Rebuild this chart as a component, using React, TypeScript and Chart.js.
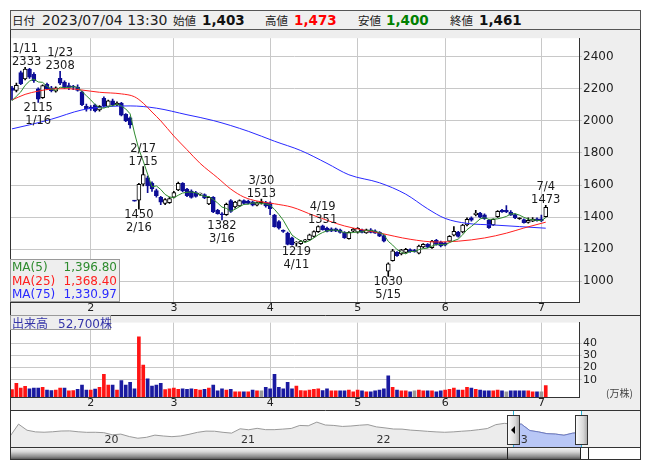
import React, { useEffect, useRef } from 'react';
import { Chart, registerables } from 'chart.js';

Chart.register(...registerables);

const FONT = '"DejaVu Sans", "Noto Sans CJK JP", sans-serif';
const JP = '"Noto Sans CJK JP", "DejaVu Sans", sans-serif';

// ---------- data ----------
const dates = [
  '1/5','1/6','1/10','1/11','1/12','1/13','1/16','1/17','1/18','1/19','1/20','1/23','1/24','1/25','1/26','1/27','1/30','1/31',
  '2/1','2/2','2/3','2/6','2/7','2/8','2/9','2/10','2/13','2/14','2/15','2/16','2/17','2/20','2/21','2/22','2/24','2/27','2/28',
  '3/1','3/2','3/3','3/6','3/7','3/8','3/9','3/10','3/13','3/14','3/15','3/16','3/17','3/20','3/22','3/23','3/24','3/27','3/28','3/29','3/30','3/31',
  '4/3','4/4','4/5','4/6','4/7','4/10','4/11','4/12','4/13','4/14','4/17','4/18','4/19','4/20','4/21','4/24','4/25','4/26','4/27','4/28',
  '5/1','5/2','5/8','5/9','5/10','5/11','5/12','5/15','5/16','5/17','5/18','5/19','5/22','5/23','5/24','5/25','5/26','5/29','5/30','5/31',
  '6/1','6/2','6/5','6/6','6/7','6/8','6/9','6/12','6/13','6/14','6/15','6/16','6/19','6/20','6/21','6/22','6/23','6/26','6/27','6/28','6/29','6/30',
  '7/3','7/4'
];

const opens = [
  2205,2190,2300,2262,2322,2290,2200,2145,2228,2205,
  2185,2265,2240,2220,2212,2210,2180,2090,2085,2100,
  2068,2140,2090,2125,2100,2110,2040,2018,1505,1505,
  1605,1645,1612,1565,1523,1485,1490,1525,1570,1610,
  1574,1563,1553,1543,1540,1483,1523,1442,1420,1415,
  1503,1463,1470,1503,1500,1495,1475,1490,1490,1489,
  1412,1372,1315,1301,1271,1238,1234,1248,1260,1280,
  1310,1345,1331,1327,1327,1321,1305,1265,1312,1306,
  1321,1302,1321,1315,1305,1285,1063,1129,1180,1170,
  1180,1198,1195,1175,1215,1230,1210,1256,1245,1240,
  1250,1287,1307,1307,1351,1396,1415,1425,1415,1381,
  1352,1402,1442,1442,1432,1416,1390,1385,1367,1375,
  1390,1390,1403
];
const highs = [
  2215,2235,2310,2333,2328,2300,2205,2225,2235,2215,
  2212,2308,2250,2235,2222,2225,2185,2105,2095,2105,
  2095,2150,2130,2135,2118,2115,2045,2025,1505,1610,
  1715,1655,1620,1575,1530,1515,1525,1560,1618,1615,
  1580,1570,1560,1550,1545,1528,1528,1448,1428,1488,
  1510,1498,1508,1508,1506,1500,1495,1513,1498,1495,
  1418,1378,1320,1306,1275,1248,1255,1262,1295,1315,
  1345,1351,1338,1333,1332,1326,1310,1310,1330,1335,
  1326,1325,1328,1320,1310,1290,1115,1200,1185,1200,
  1205,1203,1200,1225,1235,1235,1255,1262,1250,1245,
  1285,1341,1312,1355,1395,1402,1442,1430,1420,1385,
  1390,1440,1448,1472,1440,1420,1395,1390,1395,1397,
  1396,1412,1473
];
const lows = [
  2130,2180,2225,2255,2265,2240,2115,2140,2195,2180,
  2178,2225,2200,2195,2195,2185,2095,2060,2065,2055,
  2060,2085,2085,2095,2095,2030,1995,1955,1500,1450,
  1595,1553,1560,1525,1478,1478,1485,1520,1565,1558,
  1528,1518,1525,1535,1515,1478,1428,1418,1382,1410,
  1430,1455,1465,1480,1482,1470,1470,1480,1462,1415,
  1338,1325,1305,1226,1225,1219,1230,1245,1255,1275,
  1305,1318,1308,1310,1310,1300,1268,1262,1308,1300,
  1302,1298,1302,1298,1278,1245,1030,1125,1155,1165,
  1175,1180,1182,1170,1210,1210,1205,1225,1215,1220,
  1245,1283,1275,1302,1345,1375,1408,1395,1385,1330,
  1348,1398,1430,1428,1410,1390,1386,1362,1362,1372,
  1375,1372,1400
];
const closes = [
  2190,2222,2232,2322,2272,2250,2135,2220,2200,2188,
  2205,2235,2205,2208,2210,2190,2100,2075,2078,2062,
  2090,2092,2125,2100,2110,2035,2000,1975,1500,1605,
  1665,1595,1575,1533,1493,1510,1515,1553,1610,1563,
  1533,1523,1529,1544,1520,1523,1432,1422,1415,1480,
  1435,1493,1503,1485,1486,1475,1490,1490,1469,1452,
  1341,1331,1311,1230,1228,1242,1250,1258,1290,1310,
  1341,1321,1311,1312,1313,1305,1272,1305,1325,1330,
  1305,1320,1305,1300,1281,1250,1109,1190,1160,1196,
  1200,1185,1185,1220,1230,1213,1250,1230,1220,1225,
  1280,1311,1280,1351,1386,1381,1425,1400,1390,1335,
  1386,1436,1432,1432,1412,1395,1390,1365,1380,1387,
  1378,1378,1461
];
// volume in 万株
const volumes = [
  2.0,7.2,3.2,4.7,2.7,3.2,3.2,4.0,1.7,1.2,
  1.7,3.2,3.2,1.0,1.2,2.2,5.7,1.7,1.7,2.5,
  4.0,14.6,5.7,5.7,1.7,9.4,5.7,7.9,2.7,45.2,
  22.1,10.9,5.0,5.7,7.2,2.0,2.7,3.2,2.2,2.7,
  2.2,2.7,2.2,1.7,2.2,3.2,5.7,1.0,2.7,1.7,
  2.2,0.3,0.3,0.3,0.3,1.7,1.0,1.0,4.0,2.7,
  14.6,4.0,2.7,7.9,2.7,5.0,1.2,1.0,1.7,2.2,
  2.7,1.2,2.7,1.0,1.0,1.0,1.0,1.7,0.3,1.7,
  1.0,0.3,0.3,1.0,1.7,2.7,13.2,4.0,1.7,1.0,
  1.0,0.3,1.0,1.7,1.0,1.0,1.0,0.3,1.0,1.7,
  2.2,3.2,1.7,1.7,4.0,3.2,2.2,1.7,1.0,1.0,
  1.0,1.7,1.0,0.3,1.0,1.0,1.0,1.0,1.0,0.3,
  0.3,0.3,5.27
];
// closes of the four sessions before 1/5 (for MA5 and volume colouring)
const prevCloses = [2080, 2100, 2115, 2140];

const ma25Idx = [0,3,6,9,13,16,20,25,28,30,32,34,37,40,43,47,50,53,56,60,64,69,76,84,91,97,102,108,113,117,122];
const ma25Val = [2130,2165,2185,2198,2200,2192,2178,2168,2150,2110,2055,2000,1905,1820,1735,1645,1575,1525,1500,1483,1462,1410,1345,1301,1262,1245,1250,1270,1300,1332,1368.40];
const ma75Idx = [0,4,9,16,22,27,33,40,46,54,60,66,72,77,84,90,95,99,104,110,116,122];
const ma75Val = [1950,1975,2010,2068,2089,2093,2079,2038,2002,1935,1873,1815,1735,1664,1614,1543,1452,1392,1361,1351,1341,1330.97];

const priceTicks = [1000,1200,1400,1600,1800,2000,2200,2400];
const volumeTicks = [10,20,30,40];
const highMarks = ['1/11','1/23','2/17','3/30','4/19','7/4'];
const lowMarks = ['1/16','2/16','3/16','4/11','5/15'];
const headerTime = '2023/07/04 13:30';

// long-term navigator series (price)
const navValues = [
  1100,2200,1650,1500,1470,1510,1580,1590,1510,1460,
  1465,1430,1240,1300,1080,930,1010,1210,1130,1070,
  1130,1280,1460,1570,1560,1460,1390,1780,1690,1820,
  1700,1700,1750,1810,2080,2050,2380,2120,2080,1990,
  2030,2100,2150,1950,1860,1760,1750,1660,1610,1550,
  1500,1465,1500,1560,1610,1700,1800,2150,2270,2190,
  2200,1620,1500,1340,1305,1200,1381,1461
];
const navRangeStart = 59;
const navYearPos = [11.1, 27.1, 43.0, 59.1];
const navYearLabels = ['20','21','22','23'];

// ---------- look ----------
const NAVY = '#0d0d96';
const GRID = '#c8c8c8';
const FRAME = '#333333';
const C_MA5 = '#2e8b2e';
const C_MA25 = '#ff2020';
const C_MA75 = '#2a2aff';
const X_MIN = -0.457;
const X_MAX = 129.6;
const PRICE_MIN = 871;
const PRICE_MAX = 2515;
const VOL_MIN = -4.0;
const VOL_MAX = 56.8;

const fmt = (v: number, d = 0) =>
  v.toLocaleString('en-US', { minimumFractionDigits: d, maximumFractionDigits: d });

const monthTicks: number[] = [];
const monthLabel: Record<number, string> = {};
dates.forEach((d, i) => {
  if (i > 0 && d.split('/')[0] !== dates[i - 1].split('/')[0]) {
    monthTicks.push(i);
    monthLabel[i] = d.split('/')[0];
  }
});

const allCloses = [...prevCloses, ...closes];
const ma5 = closes.map((_, i) => {
  let s = 0;
  for (let k = 0; k < 5; k++) s += allCloses[i + k];
  return s / 5;
});

const frameDeco = (topLine: boolean) => ({
  id: 'frameDeco',
  beforeDraw(chart: any) {
    const { ctx, chartArea } = chart;
    ctx.save();
    ctx.fillStyle = '#ffffff';
    ctx.fillRect(chartArea.left, chartArea.top, chartArea.right - chartArea.left, chartArea.bottom - chartArea.top);
    ctx.restore();
  },
  afterDraw(chart: any) {
    const { ctx, width, height } = chart;
    ctx.save();
    ctx.strokeStyle = FRAME;
    ctx.lineWidth = 1;
    ctx.beginPath();
    ctx.moveTo(0.5, 0); ctx.lineTo(0.5, height);
    ctx.moveTo(width - 0.5, 0); ctx.lineTo(width - 0.5, height);
    if (topLine) { ctx.moveTo(0, 0.5); ctx.lineTo(width, 0.5); }
    ctx.stroke();
    ctx.restore();
  },
});

const annotPlugin = {
  id: 'annot',
  afterDatasetsDraw(chart: any) {
    const { ctx, chartArea } = chart;
    const xs = chart.scales.x;
    const ys = chart.scales.y;
    ctx.save();
    ctx.font = `11.5px ${FONT}`;
    ctx.fillStyle = '#1a1a1a';
    ctx.textAlign = 'left';
    const place = (text: string, cx: number, y: number) => {
      const w = ctx.measureText(text).width;
      let left = cx - w / 2;
      if (left < chartArea.left + 2) left = chartArea.left + 2;
      if (left + w > chartArea.right - 2) left = chartArea.right - 2 - w;
      ctx.fillText(text, left, y);
    };
    highMarks.forEach((d) => {
      const i = dates.indexOf(d);
      const x = xs.getPixelForValue(i);
      const y = ys.getPixelForValue(highs[i]);
      ctx.textBaseline = 'alphabetic';
      place(String(highs[i]), x, y - 2);
      place(d, x, y - 15);
    });
    lowMarks.forEach((d) => {
      const i = dates.indexOf(d);
      const x = xs.getPixelForValue(i);
      const y = ys.getPixelForValue(lows[i]);
      ctx.textBaseline = 'top';
      place(String(lows[i]), x, y);
      place(d, x, y + 13);
    });
    ctx.restore();
  },
};

const navPlugin = {
  id: 'navDeco',
  beforeDraw(chart: any) {
    const { ctx, chartArea, width, height } = chart;
    ctx.save();
    ctx.fillStyle = '#ffffff';
    ctx.fillRect(0, 0, width, height);
    ctx.fillStyle = '#f0f0f0';
    ctx.fillRect(chartArea.right, 0, width - chartArea.right, height);
    ctx.restore();
  },
  afterDatasetsDraw(chart: any) {
    const { ctx, width, height } = chart;
    const xs = chart.scales.x;
    ctx.save();
    ctx.font = `11px ${FONT}`;
    ctx.fillStyle = '#333';
    ctx.textBaseline = 'middle';
    ctx.textAlign = 'left';
    navYearPos.forEach((p, k) => ctx.fillText(navYearLabels[k], xs.getPixelForValue(p), 30));
    const xa = Math.round(xs.getPixelForValue(navRangeStart)) + 0.5;
    const xb = Math.round(xs.getPixelForValue(navValues.length - 1)) + 0.5;
    ctx.strokeStyle = '#2cb4d6';
    ctx.lineWidth = 1;
    ctx.beginPath();
    ctx.moveTo(xa, 1); ctx.lineTo(xa, height);
    ctx.moveTo(xb, 1); ctx.lineTo(xb, height);
    ctx.stroke();
    const handle = (xc: number, arrow: boolean) => {
      const l = Math.round(xc - 6.5) + 0.5;
      const g = ctx.createLinearGradient(l, 0, l + 13, 0);
      g.addColorStop(0, '#fdfdfd');
      g.addColorStop(0.6, '#d8d8d8');
      g.addColorStop(1, '#9a9a9a');
      ctx.fillStyle = g;
      ctx.fillRect(l, 5.5, 12, 29);
      ctx.strokeStyle = '#333';
      ctx.strokeRect(l, 5.5, 12, 29);
      if (arrow) {
        ctx.fillStyle = '#000';
        ctx.beginPath();
        ctx.moveTo(l + 3.5, 20);
        ctx.lineTo(l + 7.5, 16);
        ctx.lineTo(l + 7.5, 24);
        ctx.closePath();
        ctx.fill();
      }
    };
    handle(xa, true);
    handle(xb, false);
    ctx.strokeStyle = FRAME;
    ctx.beginPath();
    ctx.moveTo(0.5, 0); ctx.lineTo(0.5, height);
    ctx.moveTo(width - 0.5, 0); ctx.lineTo(width - 0.5, height);
    ctx.moveTo(0, 0.5); ctx.lineTo(width, 0.5);
    ctx.stroke();
    ctx.restore();
  },
};

const xScale = (showLabels: boolean) => ({
  type: 'linear',
  min: X_MIN,
  max: X_MAX,
  offset: false,
  grid: { color: GRID, drawTicks: false, offset: false },
  border: { display: true, color: FRAME },
  ticks: {
    display: showLabels,
    autoSkip: false,
    maxRotation: 0,
    padding: 0,
    color: '#222',
    font: { size: 11, family: FONT },
    callback: (v: any) => monthLabel[v] ?? '',
  },
  afterBuildTicks: (ax: any) => { ax.ticks = monthTicks.map((v) => ({ value: v })); },
  afterFit: (ax: any) => { ax.height = 13; },
});

export default function App() {
  const priceRef = useRef<HTMLCanvasElement>(null);
  const volRef = useRef<HTMLCanvasElement>(null);
  const navRef = useRef<HTMLCanvasElement>(null);

  useEffect(() => {
    Chart.defaults.font.family = FONT;
    const charts: any[] = [];

    const bodyData = dates.map((_, i) => ({ x: i, y: [opens[i], closes[i]] }));
    const wickData = dates.map((_, i) => ({ x: i, y: [lows[i], highs[i]] }));
    const isUp = (i: number) => closes[i] > opens[i];
    const isDown = (i: number) => closes[i] < opens[i];
    const bodyFill = dates.map((_, i) => (isUp(i) ? '#ffffff' : isDown(i) ? NAVY : '#000000'));
    const bodyLine = dates.map((_, i) => (isDown(i) ? NAVY : '#000000'));
    const wickCol = dates.map((_, i) => (isDown(i) ? NAVY : '#000000'));

    charts.push(new Chart(priceRef.current as any, {
      type: 'bar',
      data: {
        datasets: [
          { type: 'line', data: ma5.map((v, i) => ({ x: i, y: v })), borderColor: C_MA5, borderWidth: 1, pointRadius: 0, order: 0 },
          { type: 'line', data: ma25Idx.map((x, k) => ({ x, y: ma25Val[k] })), borderColor: C_MA25, borderWidth: 1, pointRadius: 0, cubicInterpolationMode: 'monotone', order: 0 },
          { type: 'line', data: ma75Idx.map((x, k) => ({ x, y: ma75Val[k] })), borderColor: C_MA75, borderWidth: 1, pointRadius: 0, cubicInterpolationMode: 'monotone', order: 0 },
          { type: 'bar', data: bodyData, backgroundColor: bodyFill, borderColor: bodyLine, borderWidth: 1, borderSkipped: false, barThickness: 4, minBarLength: 1, grouped: false, order: 1 },
          { type: 'bar', data: wickData, backgroundColor: wickCol, borderWidth: 0, barThickness: 1, grouped: false, order: 2 },
        ] as any,
      },
      options: {
        animation: false,
        responsive: false,
        events: [],
        layout: { padding: 0 },
        plugins: { legend: { display: false }, tooltip: { enabled: false } },
        scales: {
          x: xScale(true) as any,
          y: {
            type: 'linear',
            position: 'right',
            min: PRICE_MIN,
            max: PRICE_MAX,
            grid: { color: GRID, tickLength: 3 },
            border: { display: true, color: FRAME },
            ticks: { padding: 1, color: '#222', font: { size: 12, family: FONT }, callback: (v: any) => String(v) },
            afterBuildTicks: (ax: any) => { ax.ticks = priceTicks.map((v) => ({ value: v })); },
            afterFit: (ax: any) => { ax.width = 62; },
          } as any,
        },
      },
      plugins: [frameDeco(false), annotPlugin],
    } as any));

    const volCol = volumes.map((_, i) => {
      const prev = i === 0 ? prevCloses[prevCloses.length - 1] : closes[i - 1];
      return closes[i] > prev ? '#ff1414' : closes[i] < prev ? '#1a1aa0' : '#9a9a9a';
    });
    charts.push(new Chart(volRef.current as any, {
      type: 'bar',
      data: {
        datasets: [
          { data: volumes.map((v, i) => ({ x: i, y: v })), backgroundColor: volCol, borderWidth: 0, barThickness: 3, base: VOL_MIN },
        ] as any,
      },
      options: {
        animation: false,
        responsive: false,
        events: [],
        layout: { padding: { top: 1 } },
        plugins: { legend: { display: false }, tooltip: { enabled: false } },
        scales: {
          x: xScale(true) as any,
          y: {
            type: 'linear',
            position: 'right',
            min: VOL_MIN,
            max: VOL_MAX,
            grid: { color: GRID, tickLength: 3 },
            border: { display: true, color: FRAME },
            ticks: { padding: 1, color: '#222', font: { size: 11, family: FONT }, callback: (v: any) => String(v) },
            afterBuildTicks: (ax: any) => { ax.ticks = volumeTicks.map((v) => ({ value: v })); },
            afterFit: (ax: any) => { ax.width = 62; },
          } as any,
        },
      },
      plugins: [frameDeco(true)],
    } as any));

    charts.push(new Chart(navRef.current as any, {
      type: 'line',
      data: {
        datasets: [
          {
            data: navValues.map((v, k) => ({ x: k, y: v })).filter((p) => p.x >= navRangeStart),
            borderColor: '#6d7bc6', borderWidth: 1, backgroundColor: '#b9c7f6', fill: 'start', pointRadius: 0, order: 0,
          },
          {
            data: navValues.map((v, k) => ({ x: k, y: v })),
            borderColor: '#9a9a9a', borderWidth: 1, backgroundColor: '#ececec', fill: 'start', pointRadius: 0, order: 1,
          },
        ] as any,
      },
      options: {
        animation: false,
        responsive: false,
        events: [],
        layout: { padding: { top: 1, right: 60, left: 0, bottom: 0 } },
        plugins: { legend: { display: false }, tooltip: { enabled: false } },
        scales: {
          x: { type: 'linear', min: 0, max: navValues.length - 1, display: false },
          y: { type: 'linear', min: 50, max: 3380, display: false },
        },
      },
      plugins: [navPlugin],
    } as any));

    return () => charts.forEach((c) => c.destroy());
  }, []);

  const last = dates.length - 1;
  const abs = (s: any) => ({ position: 'absolute', ...s });
  const legendRows = [
    { name: 'MA(5)', value: ma5[last], color: C_MA5 },
    { name: 'MA(25)', value: ma25Val[ma25Val.length - 1], color: C_MA25 },
    { name: 'MA(75)', value: ma75Val[ma75Val.length - 1], color: C_MA75 },
  ];

  return (
    <div style={abs({ left: 0, top: 0, width: 653, height: 470, fontFamily: FONT, background: '#fff' })}>
      {/* header */}
      <div style={abs({ left: 10, top: 10, width: 631, height: 20, boxSizing: 'border-box', border: '1px solid #555', background: '#efefef', lineHeight: '18px', color: '#222', whiteSpace: 'nowrap' })}>
        <span style={abs({ left: 1, top: 0, fontFamily: JP, fontSize: 11.5 })}>日付</span>
        <span style={abs({ left: 31, top: 0, fontSize: 14 })}>{headerTime}</span>
        <span style={abs({ left: 162, top: 0, fontFamily: JP, fontSize: 11.5 })}>始値</span>
        <span style={abs({ left: 191, top: 0, fontSize: 13.5, fontWeight: 'bold', color: '#111' })}>{fmt(opens[last])}</span>
        <span style={abs({ left: 254, top: 0, fontFamily: JP, fontSize: 11.5 })}>高値</span>
        <span style={abs({ left: 283, top: 0, fontSize: 13.5, fontWeight: 'bold', color: '#ff0000' })}>{fmt(highs[last])}</span>
        <span style={abs({ left: 347, top: 0, fontFamily: JP, fontSize: 11.5 })}>安値</span>
        <span style={abs({ left: 375, top: 0, fontSize: 13.5, fontWeight: 'bold', color: '#008000' })}>{fmt(lows[last])}</span>
        <span style={abs({ left: 439, top: 0, fontFamily: JP, fontSize: 11.5 })}>終値</span>
        <span style={abs({ left: 468, top: 0, fontSize: 13.5, fontWeight: 'bold', color: '#111' })}>{fmt(closes[last])}</span>
      </div>

      <canvas ref={priceRef} width={631} height={285} style={abs({ left: 10, top: 30, width: 631, height: 285, background: '#eeeeee' })} />
      <canvas ref={volRef} width={631} height={95} style={abs({ left: 10, top: 315, width: 631, height: 95, background: '#eeeeee' })} />
      <canvas ref={navRef} width={631} height={38} style={abs({ left: 10, top: 410, width: 631, height: 38 })} />

      {/* MA legend */}
      <div style={abs({ left: 10, top: 259, width: 110, height: 43, boxSizing: 'border-box', border: '1px solid #9a9a9a', background: '#eeeeee', fontSize: 12 })}>
        {legendRows.map((r, k) => (
          <div key={k} style={abs({ left: 1, right: 2, top: 1 + k * 13.5, height: 13, lineHeight: '13px', color: r.color, display: 'flex', justifyContent: 'space-between' })}>
            <span>{r.name}</span>
            <span>{fmt(r.value, 2)}</span>
          </div>
        ))}
      </div>

      {/* volume caption */}
      <div style={abs({ left: 10, top: 315, width: 101, height: 15, boxSizing: 'border-box', border: '1px solid #9a9a9a', background: '#eeeeee', color: '#3434a8', fontSize: 12, lineHeight: '13px', whiteSpace: 'nowrap' })}>
        <span style={{ fontFamily: JP, marginLeft: 1 }}>出来高</span>
        <span style={{ marginLeft: 10 }}>{fmt(Math.round(volumes[last] * 10000))}</span>
        <span style={{ fontFamily: JP }}>株</span>
      </div>
      <div style={abs({ left: 606, top: 385, fontFamily: JP, fontSize: 10, color: '#444' })}>(万株)</div>

      {/* scrollbar */}
      <div style={abs({ left: 10, top: 447, width: 631, height: 13, boxSizing: 'border-box', border: '1px solid #333', background: '#fff' })}>
        <div style={abs({ left: 0, top: 0, width: 496, height: 11, background: 'linear-gradient(to bottom, #f2f2f2 0%, #d6d6d6 35%, #8a8a8a 80%, #5a5a5a 100%)' })} />
        <div style={abs({ left: 496, top: 0, width: 74, height: 11, boxSizing: 'border-box', borderLeft: '1px solid #222', borderRight: '1px solid #222', background: 'linear-gradient(to bottom, #f2f2f2 0%, #d6d6d6 35%, #8a8a8a 80%, #5a5a5a 100%)' })} />
        <div style={abs({ left: 570, top: 0, width: 8, height: 11, boxSizing: 'border-box', borderRight: '1px solid #222', background: '#fff' })} />
      </div>
    </div>
  );
}
